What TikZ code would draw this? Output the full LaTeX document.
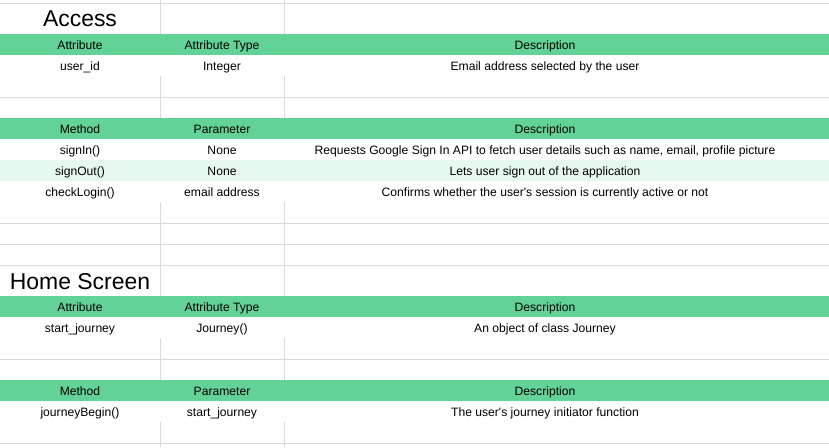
\documentclass[tikz,border=0pt]{standalone}
\usepackage{fontspec}
\setmainfont{Liberation Sans}[Ligatures=TeXOff]
\definecolor{hdrgreen}{HTML}{63D297}
\definecolor{altgreen}{HTML}{E7F9EF}
\definecolor{gridgray}{HTML}{D9D9D9}
\begin{document}
\begin{tikzpicture}[x=0.75pt,y=-0.75pt,
  grid/.style={draw=gridgray,line width=0.75pt},
  cell/.style={anchor=base,inner sep=0pt,font=\fontsize{9.1}{11}\selectfont},
  sheettitle/.style={anchor=base,inner sep=0pt,font=\fontsize{17.2}{20}\selectfont}]
\useasboundingbox (0,0) rectangle (829,447);
\fill[white] (0,0) rectangle (829,447);
% horizontal grid lines
\foreach \yy in {3.5,97,223,244,265,359,443}
  \draw[grid] (0,\yy) -- (829,\yy);
% vertical grid segments
\foreach \xx in {160,284}{
  \draw[grid] (\xx,0) -- (\xx,34);
  \draw[grid] (\xx,76) -- (\xx,118);
  \draw[grid] (\xx,202) -- (\xx,296);
  \draw[grid] (\xx,338) -- (\xx,380);
  \draw[grid] (\xx,422) -- (\xx,447);
}
% header bands
\fill[hdrgreen] (0,34) rectangle (829,55);
\fill[hdrgreen] (0,118) rectangle (829,139);
\fill[hdrgreen] (0,296) rectangle (829,317);
\fill[hdrgreen] (0,380) rectangle (829,401);
\fill[altgreen] (0,160) rectangle (829,181);
% titles
\node[sheettitle] (titleA) at (80,26.7) {Access};
\node[sheettitle] (titleH) at (80,289.3) {Home Screen};
% Access attributes
\node[cell] (a1) at (80,49.5) {Attribute};
\node[cell] (a2) at (222,49.5) {Attribute Type};
\node[cell] (a3) at (545,49.5) {Description};
\node[cell] (b1) at (80,70.5) {user\_id};
\node[cell] (b2) at (222,70.5) {Integer};
\node[cell] (b3) at (545,70.5) {Email address selected by the user};
% Access methods
\node[cell] (m1) at (80,133.5) {Method};
\node[cell] (m2) at (222,133.5) {Parameter};
\node[cell] (m3) at (545,133.5) {Description};
\node[cell] (s1) at (80,154.5) {signIn()};
\node[cell] (s2) at (222,154.5) {None};
\node[cell] (s3) at (545,154.5) {Requests Google Sign In API to fetch user details such as name, email, profile picture};
\node[cell] (o1) at (80,175.5) {signOut()};
\node[cell] (o2) at (222,175.5) {None};
\node[cell] (o3) at (545,175.5) {Lets user sign out of the application};
\node[cell] (c1) at (80,196.5) {checkLogin()};
\node[cell] (c2) at (222,196.5) {email address};
\node[cell] (c3) at (545,196.5) {Confirms whether the user's session is currently active or not};
% Home Screen attributes
\node[cell] (ha1) at (80,311.5) {Attribute};
\node[cell] (ha2) at (222,311.5) {Attribute Type};
\node[cell] (ha3) at (545,311.5) {Description};
\node[cell] (hb1) at (80,332.5) {start\_journey};
\node[cell] (hb2) at (222,332.5) {Journey()};
\node[cell] (hb3) at (545,332.5) {An object of class Journey};
% Home Screen methods
\node[cell] (hm1) at (80,395.5) {Method};
\node[cell] (hm2) at (222,395.5) {Parameter};
\node[cell] (hm3) at (545,395.5) {Description};
\node[cell] (hj1) at (80,416.5) {journeyBegin()};
\node[cell] (hj2) at (222,416.5) {start\_journey};
\node[cell] (hj3) at (545,416.5) {The user's journey initiator function};
\end{tikzpicture}
\end{document}
